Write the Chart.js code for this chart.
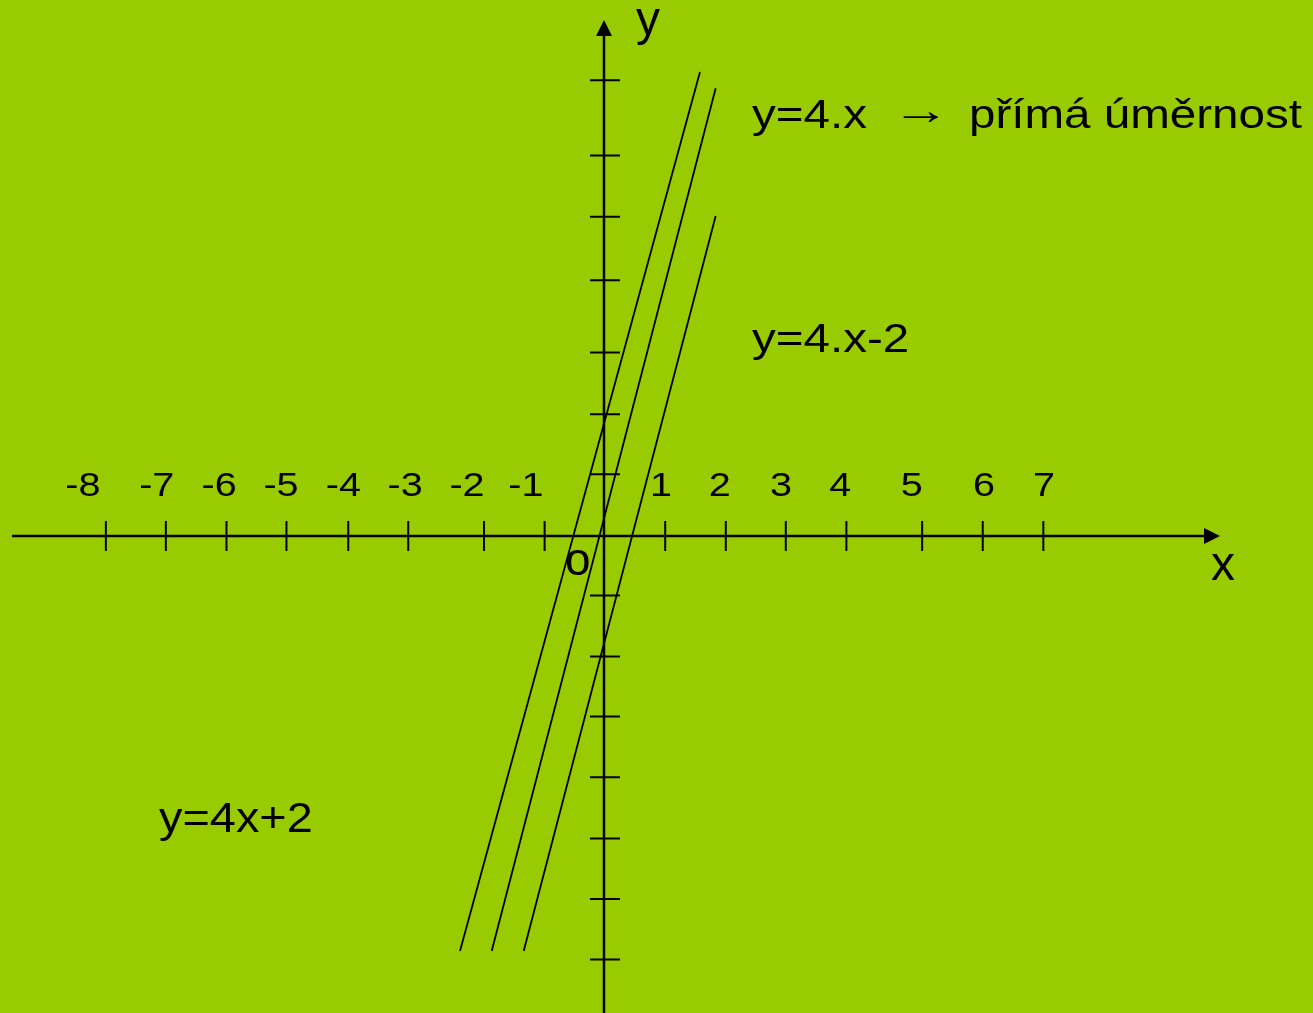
<!DOCTYPE html>
<html>
<head>
<meta charset="utf-8">
<title>y = 4x + q</title>
<script src="https://cdn.jsdelivr.net/npm/chart.js@4"></script>
<style>
  html, body { margin: 0; padding: 0; background: #99cc00; overflow: hidden; }
  canvas { display: block; }
</style>
</head>
<body>
<canvas id="graph" width="1313" height="1013"></canvas>
<script>
// axis ranges (one unit = one tick step)
const xMin = -9.967, xMax = 11.70;
const yMin = -7.871, yMax = 8.845;
const xAxisFrom = -9.77, xAxisTo = 10.165;
const yAxisFrom = -7.9, yAxisTo = 8.515;

// ticks as drawn in the picture (hand placed, not quite regular)
const xTickLabels = ['-8', '-7', '-6', '-5', '-4', '-3', '-2', '-1', '1', '2', '3', '4', '5', '6', '7'];
const xTickValues = [-8.22, -7.23, -6.23, -5.24, -4.22, -3.23, -1.98, -0.98, 1.01, 2.01, 3.00, 4.00, 5.25, 6.25, 7.25];
const xLabelValues = [-8.60, -7.38, -6.35, -5.33, -4.30, -3.28, -2.26, -1.29, 0.94, 1.91, 2.92, 3.90, 5.08, 6.27, 7.26];
const yTickValues = [7.52, 6.28, 5.27, 4.22, 3.03, 2.01, 1.02, -0.98, -1.99, -2.98, -3.98, -4.99, -5.99, -6.99];

// the three parallel lines, end points
const lineNames = ['y=4x+2', 'y=4.x', 'y=4.x-2'];
const lineStartX = [-2.376, -1.853, -1.325];
const lineStartY = [-6.848, -6.848, -6.848];
const lineEndX = [1.584, 1.843, 1.843];
const lineEndY = [7.657, 7.388, 5.281];

// text on the sheet
const noteTexts = ['y=4.x', '\u2192', 'přímá úměrnost', 'y=4.x-2', 'y=4x+2'];
const noteX = [2.442, 4.75, 6.023, 2.442, -7.343];
const noteY = [6.733, 6.80, 6.733, 3.036, -4.884];

const FONT = '"Liberation Sans", Arial, sans-serif';

function stretchedText(ctx, text, x, y, size, sx, align) {
    ctx.save();
    ctx.font = size + 'px ' + FONT;
    ctx.textBaseline = 'alphabetic';
    ctx.textAlign = align;
    ctx.translate(x, y);
    ctx.scale(sx, 1);
    ctx.fillText(text, 0, 0);
    ctx.restore();
}

const sheet = {
    id: 'sheet',
    beforeDraw(chart) {
        const ctx = chart.ctx;
        ctx.save();
        ctx.fillStyle = '#99cc00';
        ctx.fillRect(0, 0, chart.width, chart.height);
        ctx.restore();
    },
    beforeDatasetsDraw(chart) {
        const ctx = chart.ctx;
        const sx = chart.scales.x, sy = chart.scales.y;
        const ox = sx.getPixelForValue(0), oy = sy.getPixelForValue(0);

        ctx.save();
        ctx.strokeStyle = '#000';
        ctx.fillStyle = '#000';
        ctx.lineWidth = 2.5;

        // x axis with arrow
        const xa = sx.getPixelForValue(xAxisFrom), xb = sx.getPixelForValue(xAxisTo);
        ctx.beginPath();
        ctx.moveTo(xa, oy);
        ctx.lineTo(xb - 14, oy);
        ctx.stroke();
        ctx.beginPath();
        ctx.moveTo(xb, oy);
        ctx.lineTo(xb - 16, oy - 8);
        ctx.lineTo(xb - 16, oy + 8);
        ctx.closePath();
        ctx.fill();

        // y axis with arrow
        const ya = sy.getPixelForValue(yAxisFrom), yb = sy.getPixelForValue(yAxisTo);
        ctx.beginPath();
        ctx.moveTo(ox, ya);
        ctx.lineTo(ox, yb + 14);
        ctx.stroke();
        ctx.beginPath();
        ctx.moveTo(ox, yb);
        ctx.lineTo(ox - 8, yb + 16);
        ctx.lineTo(ox + 8, yb + 16);
        ctx.closePath();
        ctx.fill();

        // tick marks
        ctx.lineWidth = 2;
        ctx.beginPath();
        xTickValues.forEach(v => {
            const px = sx.getPixelForValue(v);
            ctx.moveTo(px, oy - 15);
            ctx.lineTo(px, oy + 15);
        });
        yTickValues.forEach(v => {
            const py = sy.getPixelForValue(v);
            ctx.moveTo(ox - 14, py);
            ctx.lineTo(ox + 16, py);
        });
        ctx.stroke();

        // number labels above the x axis
        const labelY = sy.getPixelForValue(0.66);
        xTickLabels.forEach((t, i) => {
            stretchedText(ctx, t, sx.getPixelForValue(xLabelValues[i]), labelY, 33, 1.2, 'center');
        });

        // axis names and origin
        ctx.font = '48px ' + FONT;
        ctx.textAlign = 'left';
        ctx.fillText('y', sx.getPixelForValue(0.528), sy.getPixelForValue(8.267));
        ctx.fillText('x', sx.getPixelForValue(10.017), sy.getPixelForValue(-0.726));
        ctx.font = '46px ' + FONT;
        ctx.fillText('o', sx.getPixelForValue(-0.644), sy.getPixelForValue(-0.644));

        // equations
        const sizes = [41, 40, 41, 41, 43];
        const stretch = [1.16, 1.45, 1.16, 1.16, 1.09];
        noteTexts.forEach((t, i) => {
            stretchedText(ctx, t, sx.getPixelForValue(noteX[i]), sy.getPixelForValue(noteY[i]), sizes[i], stretch[i], 'left');
        });
        ctx.restore();
    }
};

const datasets = lineNames.map((name, i) => ({
    label: name,
    data: [
        { x: lineStartX[i], y: lineStartY[i] },
        { x: lineEndX[i], y: lineEndY[i] }
    ],
    showLine: true,
    borderColor: '#000',
    borderWidth: 1.8,
    pointRadius: 0,
    fill: false,
}));

new Chart(document.getElementById('graph').getContext('2d'), {
    type: 'scatter',
    data: { datasets },
    options: {
        responsive: false,
        animation: false,
        layout: { padding: 0 },
        scales: {
            x: { type: 'linear', min: xMin, max: xMax, display: false },
            y: { type: 'linear', min: yMin, max: yMax, display: false }
        },
        plugins: {
            legend: { display: false },
            tooltip: { enabled: false }
        }
    },
    plugins: [sheet]
});
</script>
</body>
</html>
